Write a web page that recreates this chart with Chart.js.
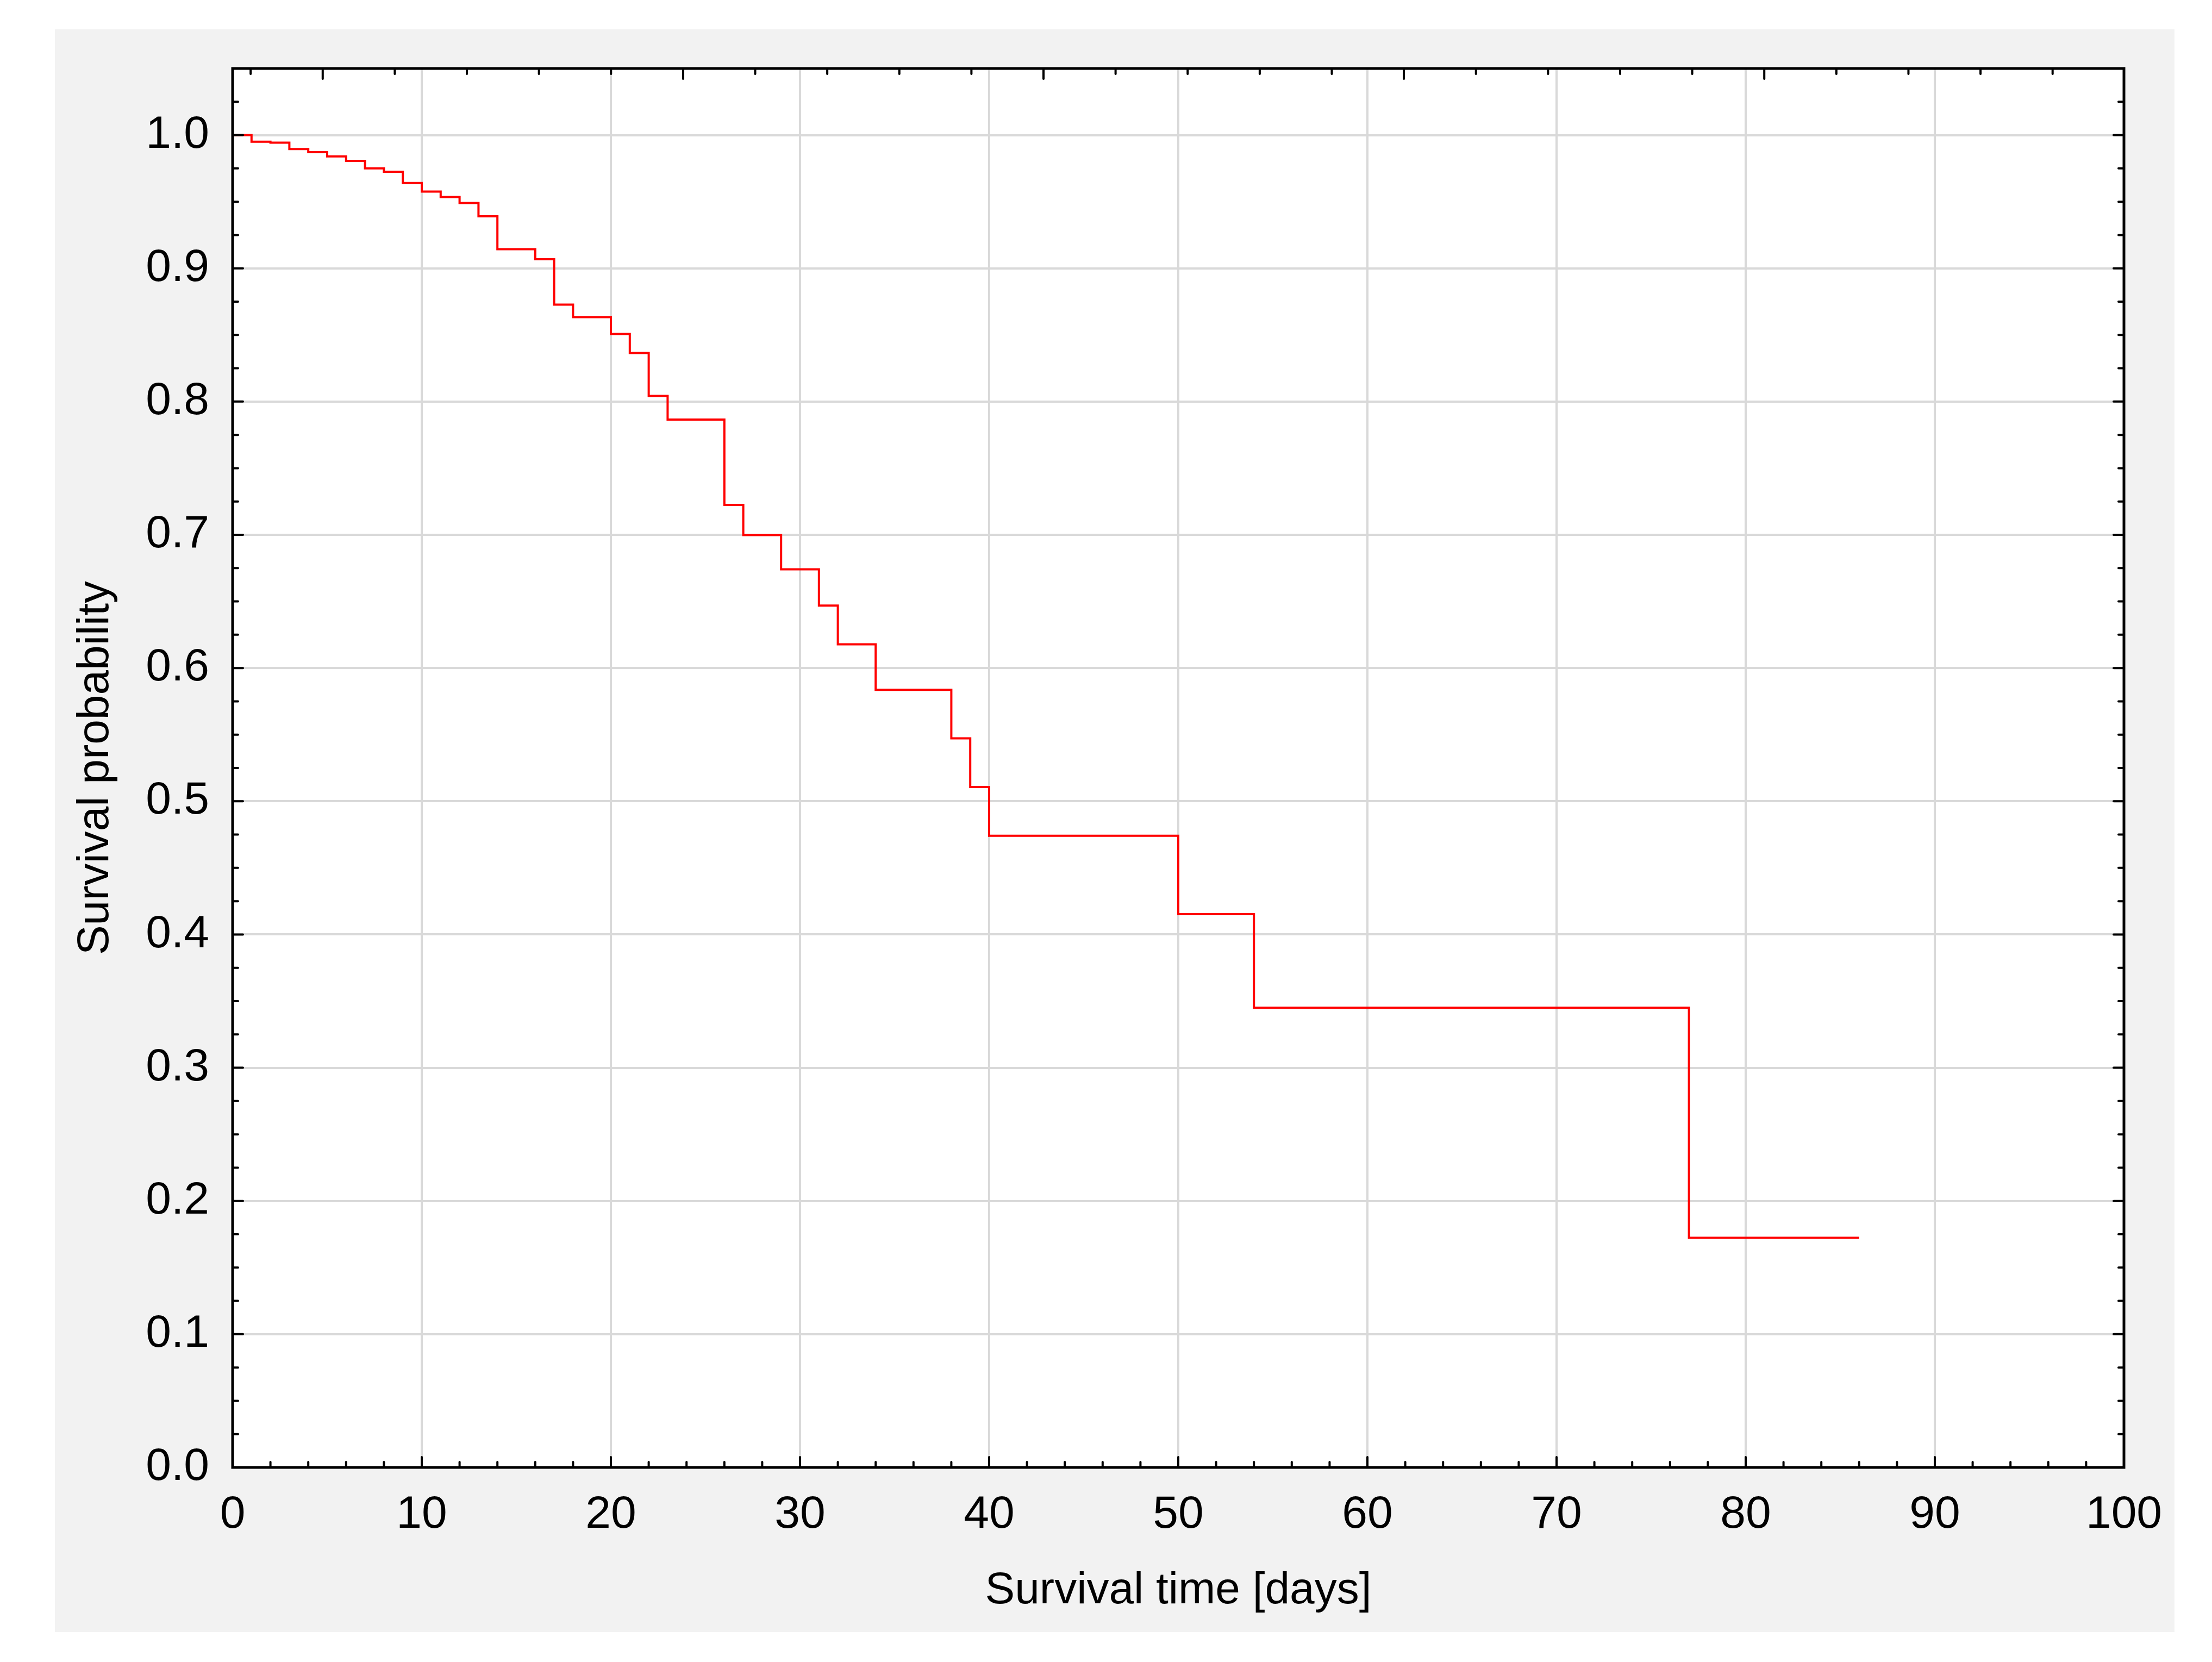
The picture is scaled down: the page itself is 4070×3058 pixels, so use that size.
<!DOCTYPE html>
<html>
<head>
<meta charset="utf-8">
<script src="https://cdn.jsdelivr.net/npm/chart.js@4.4.1/dist/chart.umd.min.js"></script>
<style>
  html, body { margin: 0; padding: 0; background: #fff; }
  canvas { display: block; }
</style>
</head>
<body>
<canvas id="km" width="4070" height="3058"></canvas>
<script>
// Kaplan-Meier survival curve
var days     = [0, 1, 2, 3, 4, 5, 6, 7, 8, 9, 10, 11, 12, 13, 14, 16, 17, 18, 20, 21, 22, 23, 26, 27, 29, 31, 32, 34, 38, 39, 40, 50, 54, 77, 86];
var survival = [1.0, 0.995, 0.9943, 0.9895, 0.9872, 0.984, 0.9807, 0.975, 0.9725, 0.964, 0.9576, 0.9535, 0.949, 0.939, 0.9144,
                0.9068, 0.8728, 0.8634, 0.8507, 0.8365, 0.8042, 0.7865, 0.7224, 0.6998, 0.6741, 0.6469, 0.6178, 0.5836,
                0.5472, 0.5107, 0.4741, 0.4153, 0.345, 0.1723, 0.1723];

var xTicks = [0, 10, 20, 30, 40, 50, 60, 70, 80, 90, 100];
var yTicks = [0, 0.1, 0.2, 0.3, 0.4, 0.5, 0.6, 0.7, 0.8, 0.9, 1.0];
var xTitle = 'Survival time [days]';
var yTitle = 'Survival probability';

var points = [];
for (var i = 0; i < days.length; i++) {
  points.push({x: days[i], y: survival[i]});
}

Chart.defaults.font.family = "'Liberation Sans', Arial, sans-serif";
Chart.defaults.font.size = 84;
Chart.defaults.color = '#000';

// panel background, white plot area, inward ticks and the black frame
var framePlugin = {
  id: 'frame',
  beforeDraw: function(chart) {
    var c = chart.ctx, a = chart.chartArea;
    c.save();
    c.fillStyle = '#fff';
    c.fillRect(0, 0, chart.width, chart.height);
    c.fillStyle = '#f2f2f2';
    c.fillRect(101, 54, 3900, 2949);
    c.fillStyle = '#fff';
    c.fillRect(a.left, a.top, a.right - a.left, a.bottom - a.top);
    c.restore();
  },
  afterDraw: function(chart) {
    var c = chart.ctx, a = chart.chartArea;
    var x = chart.scales.x, y = chart.scales.y, x2 = chart.scales.x2;
    var px, py, len, v, k;
    c.save();
    c.strokeStyle = '#000';
    c.lineWidth = 4;
    c.lineCap = 'round';
    c.beginPath();
    for (v = 0; v <= 100; v += 2) {
      px = x.getPixelForValue(v);
      len = (v % 10 === 0) ? 19 : 10;
      c.moveTo(px, a.bottom); c.lineTo(px, a.bottom - len);
    }
    for (k = -1; k <= 24; k++) {
      px = x2.getPixelForValue(k);
      len = (k % 5 === 0) ? 19 : 10;
      c.moveTo(px, a.top); c.lineTo(px, a.top + len);
    }
    for (k = 0; k <= 42; k++) {
      py = y.getPixelForValue(k * 0.025);
      len = (k % 4 === 0) ? 19 : 10;
      c.moveTo(a.left, py); c.lineTo(a.left + len, py);
      c.moveTo(a.right, py); c.lineTo(a.right - len, py);
    }
    c.stroke();
    c.lineWidth = 5;
    c.lineCap = 'butt';
    c.strokeRect(a.left, a.top, a.right - a.left, a.bottom - a.top);
    c.restore();
  }
};

new Chart(document.getElementById('km'), {
  type: 'line',
  data: {
    datasets: [{
      label: 'Survival',
      data: points,
      borderColor: '#ff0000',
      borderWidth: 4,
      pointRadius: 0,
      stepped: 'before',
      fill: false
    }]
  },
  options: {
    responsive: false,
    animation: false,
    devicePixelRatio: 1,
    layout: { padding: { top: 126, right: 162, left: 0, bottom: 0 } },
    plugins: { legend: { display: false }, tooltip: { enabled: false } },
    scales: {
      x: {
        type: 'linear',
        position: 'bottom',
        min: 0,
        max: 100,
        afterBuildTicks: function(s) { s.ticks = xTicks.map(function(v) { return {value: v}; }); },
        afterFit: function(s) { s.height = 358; },
        ticks: { padding: 37, maxRotation: 0, autoSkip: false },
        grid: { color: '#d9d9d9', lineWidth: 4, drawTicks: false },
        border: { display: false },
        title: { display: true, text: xTitle, font: { size: 82 }, padding: { top: 0, bottom: 81 } }
      },
      x2: {
        type: 'linear',
        position: 'top',
        min: -1.25,
        max: 24.99,
        afterFit: function(s) { s.height = 0; },
        ticks: { display: false },
        grid: { display: false, drawTicks: false },
        border: { display: false }
      },
      y: {
        type: 'linear',
        position: 'left',
        min: 0,
        max: 1.05,
        afterBuildTicks: function(s) { s.ticks = yTicks.map(function(v) { return {value: v}; }); },
        afterFit: function(s) { s.width = 428; },
        ticks: { padding: 43, callback: function(v) { return Number(v).toFixed(1); } },
        grid: { color: '#d9d9d9', lineWidth: 4, drawTicks: false },
        border: { display: false },
        title: { display: true, text: yTitle, font: { size: 82 }, padding: { top: 127, bottom: 0 } }
      }
    }
  },
  plugins: [framePlugin]
});
</script>
</body>
</html>
